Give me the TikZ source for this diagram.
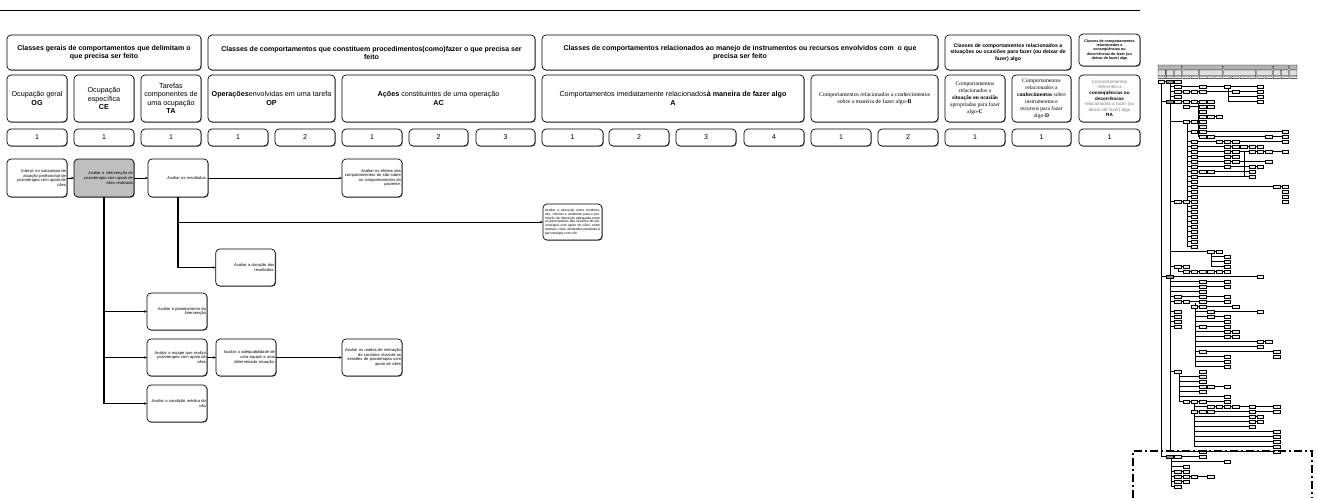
\documentclass[tikz,border=0pt]{standalone}
\usepackage{fontspec}
\setmainfont{Liberation Sans}
\newfontfamily\serif{Liberation Serif}
\usetikzlibrary{arrows.meta,shadows}

% box spanning (x1,y1)-(x2,y2): style, name, x1, y1, x2, y2, text
\newcommand\bx[7]{\node[#1,minimum width={(#5-#3)*1pt},minimum height={(#6-#4)*1pt}] (#2) at ({(#3+#5)/2},{(#4+#6)/2}) {#7};}
% overview helpers: horizontal line in row #1 from #2 to #3, vertical line at #1 from #2 to #3
\newcommand\hl[3]{\draw[mline] (#2,#1+0.34) -- (#3,#1+0.34);}
\newcommand\vl[3]{\draw[mspine] (#1,#2) -- (#1,#3);}

\begin{document}
\begin{tikzpicture}[x=1pt,y=-1pt,
  every node/.style={inner sep=1pt,outer sep=0pt},
  box/.style={draw=black,line width=0.7pt,rounded corners=4pt,fill=white,
    drop shadow={shadow xshift=0.7pt,shadow yshift=-0.7pt,fill=black!65,opacity=1}},
  hdr/.style={box,font=\fontsize{7}{8}\selectfont\bfseries,align=center},
  cat/.style={box,font=\fontsize{7.2}{8.4}\selectfont,align=center},
  num/.style={box,font=\fontsize{7}{8}\selectfont},
  task/.style={box,font=\fontsize{4.1}{4.6}\selectfont,align=right,text width=58pt,inner sep=0.8pt},
  arr/.style={-{Stealth[length=3pt,width=2.4pt]},line width=0.6pt},
  trunk/.style={line width=1.2pt},
  mbox/.style={draw=black,line width=0.4pt,fill=black!8},
  mgray/.style={draw=black,line width=0.4pt,fill=black!45},
  mline/.style={line width=0.45pt},
  mspine/.style={line width=0.65pt},
  view/.style={line width=1.3pt,dash pattern=on 8pt off 3pt on 2pt off 3pt}
]
\useasboundingbox (0,0) rectangle (1318,498);

\draw[line width=0.8pt] (0,10) -- (1140,10);

% ---------- column headers ----------
\bx{hdr}{hA}{7}{35}{201}{70}{Classes gerais de comportamentos que delimitam o\\que precisa ser feito}
\bx{hdr}{hB}{208}{35}{535}{70}{Classes de comportamentos que constituem procedimentos(como)fazer o que precisa ser\\feito}
\bx{hdr}{hC}{542}{35}{938}{70}{Classes de comportamentos relacionados ao manejo de instrumentos ou recursos envolvidos com\ \ o que\\precisa ser feito}
\bx{hdr,font=\fontsize{5.2}{6.2}\selectfont\bfseries}{hD}{945}{35}{1071}{70}{Classes de comportamentos relacionados a\\situações ou ocasiões para fazer (ou deixar de\\fazer) algo}
\bx{hdr,font=\fontsize{3.7}{4.4}\selectfont\bfseries}{hE}{1079}{34}{1140}{66}{Classes de comportamentos\\relacionados a\\conseqüências ou\\decorrências de fazer (ou\\deixar de fazer) algo}

% ---------- categories ----------
\bx{cat}{cOG}{7}{75}{67}{122}{Ocupação geral\\\textbf{OG}}
\bx{cat}{cCE}{74}{75}{134}{122}{Ocupação\\específica\\\textbf{CE}}
\bx{cat}{cTA}{141}{75}{201}{122}{Tarefas\\componentes de\\uma ocupação\\\textbf{TA}}
\bx{cat}{cOP}{208}{75}{335}{122}{\textbf{Operações}envolvidas em uma tarefa\\\textbf{OP}}
\bx{cat}{cAC}{342}{75}{535}{122}{\textbf{Ações} constituintes de uma operação\\\textbf{AC}}
\bx{cat}{cA}{542}{75}{804}{122}{Comportamentos imediatamente relacionados\textbf{à maneira de fazer algo}\\\textbf{A}}
\bx{cat,font=\fontsize{5.8}{7.4}\selectfont\serif}{cB}{811}{75}{938}{122}{Comportamentos relacionados a conhecimentos\\sobre a maneira de fazer algo-\textbf{B}}
\bx{cat,font=\fontsize{5.6}{7}\selectfont\serif}{cC}{945}{75}{1005}{122}{Comportamentos\\relacionados a\\\textbf{situação ou ocasião}\\apropriadas para fazer\\algo-\textbf{C}}
\bx{cat,font=\fontsize{5.6}{7}\selectfont\serif}{cD}{1012}{75}{1071}{122}{Comportamentos\\relacionados a\\\textbf{conhecimentos} sobre\\instrumentos e\\recursos para fazer\\algo-\textbf{D}}
\bx{cat,font=\fontsize{4.6}{5.6}\selectfont}{cRA}{1079}{75}{1140}{122}{\textcolor{black!50}{Comportamentos}\\\textcolor{black!50}{referentes a}\\\textbf{conseqüências ou}\\\textbf{decorrências}\\\textcolor{black!50}{relacionadas a fazer (ou}\\\textcolor{black!50}{deixar de fazer) algo}\\\textbf{RA}}

% ---------- sub-columns ----------
\foreach \a/\b/\t [count=\i] in {7/67/1,74/134/1,141/201/1,208/268/1,275/335/2,342/402/1,409/468/2,476/535/3,542/603/1,609/669/2,676/736/3,744/804/4,811/871/1,878/938/2,945/1005/1,1012/1071/1,1079/1140/1}
  \bx{num}{s\i}{\a}{129}{\b}{146}{\t};

% ---------- task tree ----------
\bx{task}{n1}{7}{159}{67}{197}{Intervir no subcampo de\\atuação profissional de\\psicoterapia com apoio de\\cães}
\bx{task,fill=black!25}{n2}{74}{159}{134}{197}{Avaliar a intervenção de\\psicoterapia com apoio de\\cães realizada}
\bx{task}{n3}{148}{159}{208}{197}{Avaliar os resultados.}
\bx{task}{n4}{342}{159}{402}{197}{Avaliar os efeitos dos\\comportamentos do cão sobre\\os comportamentos do\\paciente.}
\bx{task,font=\fontsize{3.4}{3.8}\selectfont,align=justify,text width=55pt}{n5}{543}{204}{602}{240}{Avaliar a alocação entre condutor, cão, clientes e ambiente para a promoção de interação adequada entre os participantes das sessões de psicoterapia com apoio de cães, entre animais, cães, atividades paralelas à psicoterapia com cão}
\bx{task}{n6}{216}{249}{275}{286}{Avaliar a duração dos\\resultados.}
\bx{task}{n7}{147}{293}{207}{330}{Avaliar o planejamento da\\intervenção}
\bx{task}{n8}{147}{339}{207}{376}{Avaliar a equipe que realiza\\psicoterapia com apoio de\\cães}
\bx{task}{n9}{216}{339}{276}{376}{Avaliar a adequabilidade de\\uma equipe a uma\\determinada situação.}
\bx{task}{n10}{342}{339}{402}{376}{Avaliar os modos de interação\\do condutor durante as\\sessões de psicoterapia com\\apoio de cães}
\bx{task}{n11}{147}{385}{207}{422}{Avaliar a condição médica do\\cão}

\draw[arr] (n1) -- (n2);
\draw[arr] (n2) -- (n3);
\draw[arr] (n3) -- (n4);
\draw[trunk] (n3.south) -- (n3.south |- n6.west);
\draw[arr] (n3.south |- n5.west) -- (n5.west);
\draw[arr] (n3.south |- n6.west) -- (n6.west);
\draw[trunk] (n2.south) -- (n2.south |- n11.west);
\draw[arr] (n2.south |- n7.west) -- (n7.west);
\draw[arr] (n2.south |- n8.west) -- (n8.west);
\draw[arr] (n2.south |- n11.west) -- (n11.west);
\draw[arr] (n8) -- (n9);
\draw[arr] (n9) -- (n10);

% ---------- overview: headers ----------
\begin{scope}[shift={(1158,65)},scale=0.1227,shift={(-7,-35)}]
  \foreach \a/\b in {7/201,208/535,542/938,945/1071,1079/1140}
    \draw[line width=0.3pt,fill=black!30,rounded corners=0.4pt] (\a,35) rectangle (\b,70);
  \foreach \a/\b in {7/67,74/134,141/201,208/335,342/535,542/804,811/938,945/1005,1012/1071,1079/1140}
    \draw[line width=0.3pt,fill=black!12,rounded corners=0.4pt] (\a,75) rectangle (\b,122);
  \foreach \a/\b in {7/67,74/134,141/201,208/268,275/335,342/402,409/468,476/535,542/603,609/669,676/736,744/804,811/871,878/938,945/1005,1012/1071,1079/1140}
    \draw[line width=0.3pt,fill=white,rounded corners=0.4pt] (\a,129) rectangle (\b,146);
\end{scope}

% ---------- overview: tree ----------
\begin{scope}[shift={(1158,80)},x=8.25pt,y=-5pt]
  \vl{0.45}{0.68}{75.34} \vl{1.45}{0.68}{74.34}
  \hl{0}{0.4}{2.4} \hl{1}{1.45}{12.4} \hl{2}{1.45}{12.4}
  \hl{3}{1.45}{2.4} \hl{3}{8.5}{12.4} \hl{4}{0.45}{6.4} \hl{4}{8.5}{12.4}
  \vl{8.5}{1.68}{4.34}
  \hl{5}{3.4}{6.4} \vl{4.9}{4.68}{11.34}
  \hl{6}{4.9}{5.4} \hl{7}{4.9}{7.4} \hl{8}{1.45}{5.4} \hl{9}{4.9}{5.4}
  \hl{10}{3.6}{15.4} \hl{11}{4.9}{15.4}
  \vl{3.6}{8.68}{33.34}
  \foreach \r/\e in {12/15.4,13/12.4,14/15.4,15/9.4,16/13.4,17/12.4,18/11.4,19/11.4,21/15.4}
    {\hl{\r}{3.6}{\e}}
  \foreach \r in {20,22,23,...,33} {\hl{\r}{3.6}{4.4}}
  \hl{24}{1.45}{3.4}
  \vl{10.5}{14.34}{19.34}
  \hl{34}{1.45}{7.4} \vl{6.45}{34.68}{37.34}
  \hl{35}{6.45}{8.4} \hl{36}{6.45}{8.4} \hl{37}{6.45}{8.4} \hl{37}{1.45}{3.4}
  \vl{2.45}{37.68}{38.34} \hl{38}{2.45}{8.4}
  \hl{39}{0.45}{12.4}
  \hl{40}{1.45}{8.4} \hl{41}{1.45}{8.4} \hl{42}{1.45}{5.4} \hl{43}{1.45}{8.4} \hl{44}{1.45}{8.4}
  \vl{4.5}{44.68}{57.34}
  \hl{45}{4.5}{9.4} \hl{46}{4.5}{12.4} \hl{47}{4.5}{8.4} \hl{48}{4.5}{8.4} \hl{49}{4.5}{8.4}
  \foreach \r in {46,...,49} {\hl{\r}{1.45}{2.4}}
  \hl{50}{4.5}{9.4} \hl{51}{4.5}{9.4} \hl{52}{4.5}{13.4} \hl{53}{4.5}{12.4}
  \hl{54}{4.5}{14.4} \hl{55}{4.5}{8.4} \hl{56}{4.5}{8.4} \hl{57}{4.5}{8.4}
  \hl{58}{1.45}{2.4} \vl{2.6}{58.68}{64.34}
  \hl{59}{2.6}{5.4} \hl{60}{2.6}{5.4} \hl{61}{2.6}{8.4} \hl{62}{2.6}{5.4} \hl{63}{2.6}{8.4} \hl{64}{2.6}{8.4}
  \vl{4.45}{64.68}{73.34}
  \hl{65}{4.45}{14.4} \hl{66}{4.45}{14.4} \hl{67}{4.45}{12.4} \hl{68}{4.45}{12.4} \hl{69}{4.45}{11.4}
  \foreach \r in {70,...,73} {\hl{\r}{4.45}{14.4}}
  \hl{74}{1.45}{14.4} \hl{75}{0.45}{5.4}
  \vl{1.6}{75.68}{81.34}
  \hl{76}{1.6}{8.4} \hl{77}{1.6}{3.4} \hl{78}{1.6}{3.4} \hl{79}{1.6}{6.4} \hl{80}{1.6}{3.4} \hl{81}{1.6}{2.4}
  % boxes
  \foreach \c/\r in {0/0,2/0,2/1,5/1,8/1,12/1,2/2,3/2,4/2,5/2,9/2,12/2,2/3,12/3,
    2/4,3/4,4/4,5/4,6/4,12/4,3/5,5/5,6/5,5/6,5/7,6/7,7/7,3/8,4/8,5/8,5/9,
    4/10,5/10,15/10,5/11,6/11,13/11,15/11,4/12,7/12,8/12,9/12,15/12,
    4/13,8/13,9/13,10/13,11/13,12/13,4/14,8/14,9/14,11/14,12/14,13/14,15/14,
    4/15,8/15,9/15,4/16,8/16,9/16,13/16,4/17,8/17,11/17,12/17,4/18,5/18,6/18,11/18,
    4/19,11/19,4/20,4/21,14/21,15/21,4/22,15/22,4/23,15/23,2/24,3/24,4/24,15/24,
    4/25,4/26,4/27,4/28,4/29,4/30,4/31,4/32,4/33,
    6/34,7/34,8/35,8/36,2/37,3/37,8/37,3/38,4/38,5/38,6/38,7/38,8/38,12/39,
    5/40,8/40,5/41,8/41,5/42,2/43,5/43,8/43,2/44,3/44,5/44,8/44,4/45,5/45,9/45,
    2/46,6/46,12/46,2/47,6/47,8/47,2/48,8/48,2/49,5/49,8/49,8/50,9/50,8/51,9/51,
    12/52,13/52,12/53,5/54,14/54,8/55,14/55,8/56,8/57,
    2/58,5/58,5/59,5/60,5/61,6/61,8/61,5/62,8/63,3/64,4/64,5/64,8/64,
    6/65,7/65,8/65,9/65,11/65,14/65,4/66,5/66,6/66,11/66,14/66,
    11/67,12/67,11/68,12/68,11/69,14/70,14/71,14/72,14/73,5/74,14/74,
    2/75,5/75,8/76,3/77,2/78,3/78,2/79,3/79,4/79,6/79,2/80,3/80,2/81}
    \draw[mbox] (\c,\r) rectangle ++(0.81,0.68);
  \foreach \r in {0,4,39,75}
    \draw[mgray] (1,\r) rectangle ++(0.81,0.68);
\end{scope}

% visible-area frame
\draw[view] (1133,498) -- (1133,451) -- (1312,451) -- (1312,498);
\end{tikzpicture}
\end{document}
